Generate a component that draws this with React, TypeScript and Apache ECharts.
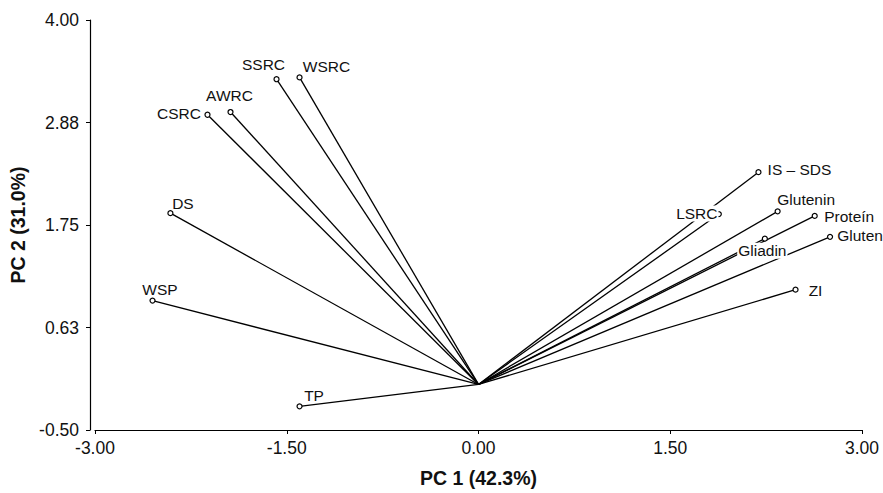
import React, { useEffect, useRef } from "react";
import * as echarts from "echarts";

const variables = ["SSRC", "WSRC", "AWRC", "CSRC", "DS", "WSP", "TP", "IS – SDS", "LSRC", "Glutenin", "Proteín", "Gluten", "Gliadin", "ZI"];
const pc1 = [-1.58, -1.40, -1.94, -2.12, -2.41, -2.55, -1.40, 2.19, 1.88, 2.34, 2.63, 2.75, 2.24, 2.48];
const pc2 = [3.35, 3.37, 2.99, 2.96, 1.88, 0.92, -0.24, 2.33, 1.87, 1.90, 1.85, 1.62, 1.60, 1.04];
const xTicks = ["-3.00", "-1.50", "0.00", "1.50", "3.00"];
const yTicks = ["-0.50", "0.63", "1.75", "2.88", "4.00"];

// label placement (pixel offsets of label centre from the point)
const labelOffsets: Record<string, [number, number]> = {
  "SSRC": [-13, -15],
  "WSRC": [27, -10.5],
  "AWRC": [-1, -16.5],
  "CSRC": [-28.5, -1.5],
  "DS": [12.5, -10],
  "WSP": [7.5, -11.5],
  "TP": [14.5, -11],
  "IS – SDS": [41, -3],
  "LSRC": [-22, -0.5],
  "Glutenin": [28.5, -12],
  "Proteín": [34.5, 1],
  "Gluten": [30, -1],
  "Gliadin": [-2.5, 12],
  "ZI": [20, 1],
};
const masked = ["LSRC", "Gliadin"];

export default function App() {
  const ref = useRef<HTMLDivElement>(null);
  useEffect(() => {
    if (!ref.current) return;
    const chart = echarts.init(ref.current, undefined, { renderer: "svg" });
    const font = "Liberation Sans, Arial, Helvetica, sans-serif";
    const lineSeries = variables.map((name, i) => ({
      type: "line",
      name,
      data: [[0, 0], [pc1[i], pc2[i]]],
      symbol: "none",
      lineStyle: { color: "#000", width: 1.3 },
      z: 2,
      silent: true,
    }));
    const pointSeries = {
      type: "scatter",
      z: 5,
      symbol: "circle",
      symbolSize: 5,
      itemStyle: { color: "#fff", borderColor: "#000", borderWidth: 1.2, opacity: 1 },
      data: variables.map((name, i) => ({
        value: [pc1[i], pc2[i]],
        name,
        label: {
          show: true,
          formatter: name,
          position: "inside",
          align: "center",
          verticalAlign: "middle",
          offset: labelOffsets[name],
          color: "#111",
          fontFamily: font,
          fontSize: 15.5,
          backgroundColor: masked.includes(name) ? "#fff" : "transparent",
          padding: masked.includes(name) ? [0, 1, 0, 1] : 0,
        },
      })),
    };
    chart.setOption({
      animation: false,
      backgroundColor: "#fff",
      grid: { left: 95, right: 21, top: 20, bottom: 61, containLabel: false },
      xAxis: {
        type: "value",
        min: -3,
        max: 3,
        interval: 1.5,
        name: "PC 1 (42.3%)",
        nameLocation: "middle",
        nameGap: 38,
        nameTextStyle: { fontFamily: font, fontSize: 19.5, fontWeight: "bold", color: "#111" },
        axisLine: { show: true, onZero: false, lineStyle: { color: "#000", width: 1.2 } },
        axisTick: { show: true, length: 4, lineStyle: { color: "#000" } },
        axisLabel: {
          margin: 9,
          fontFamily: font,
          fontSize: 17.5,
          color: "#111",
          formatter: (v: number) => xTicks[Math.round((v + 3) / 1.5)] ?? "",
        },
        splitLine: { show: false },
      },
      yAxis: {
        type: "value",
        min: -0.5,
        max: 4,
        interval: 1.125,
        offset: 5,
        name: "PC 2 (31.0%)",
        nameLocation: "middle",
        nameGap: 61,
        nameTextStyle: { fontFamily: font, fontSize: 19.5, fontWeight: "bold", color: "#111" },
        axisLine: { show: true, onZero: false, lineStyle: { color: "#000", width: 1.2 } },
        axisTick: { show: true, length: 4, lineStyle: { color: "#000" } },
        axisLabel: {
          margin: 11,
          fontFamily: font,
          fontSize: 17.5,
          color: "#111",
          formatter: (v: number) => yTicks[Math.round((v + 0.5) / 1.125)] ?? "",
        },
        splitLine: { show: false },
      },
      series: [...lineSeries, pointSeries],
    });
    return () => chart.dispose();
  }, []);
  return <div ref={ref} style={{ width: 883, height: 493, position: "fixed", left: 0, top: 0 }} />;
}
